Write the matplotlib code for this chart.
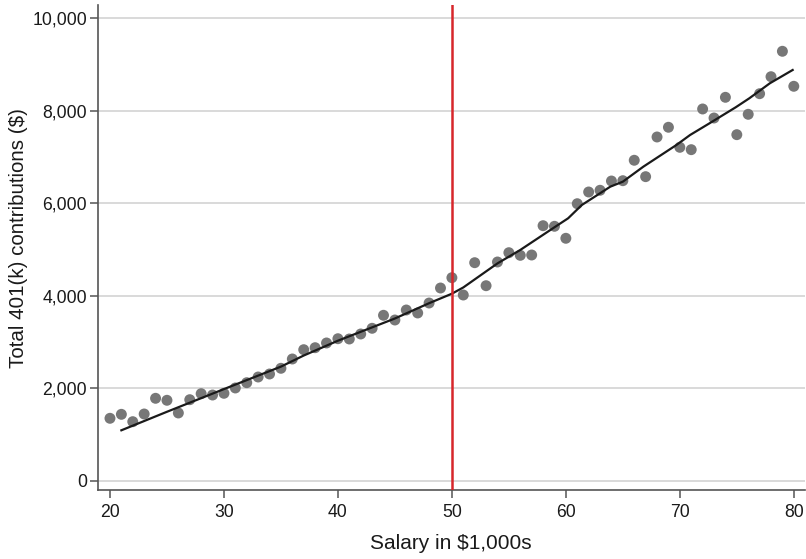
import matplotlib
matplotlib.use("Agg")
import matplotlib.pyplot as plt
from matplotlib.ticker import FuncFormatter

# salary (in $1,000s) and total 401(k) contributions
salary = list(range(20, 81))
contrib = [1354, 1440, 1281, 1447, 1786, 1743, 1469, 1756, 1886, 1857,
           1894, 2009, 2123, 2246, 2311, 2434, 2635, 2836, 2879, 2981,
           3073, 3067, 3175, 3298, 3579, 3477, 3693, 3629, 3844, 4168,
           4391, 4017, 4715, 4218, 4730, 4931, 4874, 4881, 5514, 5501,
           5242, 5989, 6242, 6279, 6479, 6486, 6927, 6573, 7430, 7640,
           7207, 7156, 8035, 7840, 8287, 7480, 7920, 8365, 8732, 9281,
           8525]

# fitted (smoothed) line
fit_x = [21, 25, 30, 35, 37, 40, 45, 48, 50, 51, 54, 56, 59, 60.2, 61.4,
         63.9, 65, 66.8, 69.7, 70.9, 72.6, 74.9, 76.1, 77.9, 79.9]
fit_y = [1095, 1495, 1985, 2470, 2710, 3030, 3510, 3840, 4045, 4180, 4700,
         4990, 5480, 5674, 5961, 6357, 6465, 6789, 7257, 7473, 7725, 8071,
         8266, 8590, 8877]

cutoff = 50
yticks = [0, 2000, 4000, 6000, 8000, 10000]
xticks = [20, 30, 40, 50, 60, 70, 80]

plt.rcParams['font.family'] = ['Liberation Sans', 'DejaVu Sans']

fig = plt.figure(figsize=(8.06, 5.59), dpi=100)
ax = fig.add_axes([0.1216, 0.1234, 0.8774, 0.8676])

ax.set_axisbelow(True)
ax.grid(axis='y', color='#d0d0d0', linewidth=1.1)

ax.scatter(salary, contrib, s=62, color='#777777', edgecolors='none', zorder=2)
ax.plot(fit_x, fit_y, color='#1a1a1a', linewidth=1.6, zorder=3)
ax.axvline(cutoff, color='#d7262b', linewidth=1.8, zorder=4)

ax.set_xlim(18.95, 81.0)
ax.set_ylim(-195, 10280)
ax.set_xticks(xticks)
ax.set_yticks(yticks)
ax.yaxis.set_major_formatter(FuncFormatter(lambda v, p: f"{int(v):,}"))

for s in ['top', 'right']:
    ax.spines[s].set_visible(False)
for s in ['left', 'bottom']:
    ax.spines[s].set_color('#555555')
    ax.spines[s].set_linewidth(1.2)

ax.tick_params(axis='both', colors='#555555', length=6, width=1.1,
               labelsize=12.7, labelcolor='#1a1a1a')
ax.tick_params(axis='x', pad=4)
ax.tick_params(axis='y', pad=2)

ax.set_xlabel('Salary in $1,000s', fontsize=15, color='#1a1a1a')
ax.set_ylabel('Total 401(k) contributions ($)', fontsize=14.8, color='#1a1a1a')
ax.xaxis.set_label_coords(0.4995, -0.09)
ax.yaxis.set_label_coords(-0.099, 0.52)

fig.savefig('out.png', dpi=100)
